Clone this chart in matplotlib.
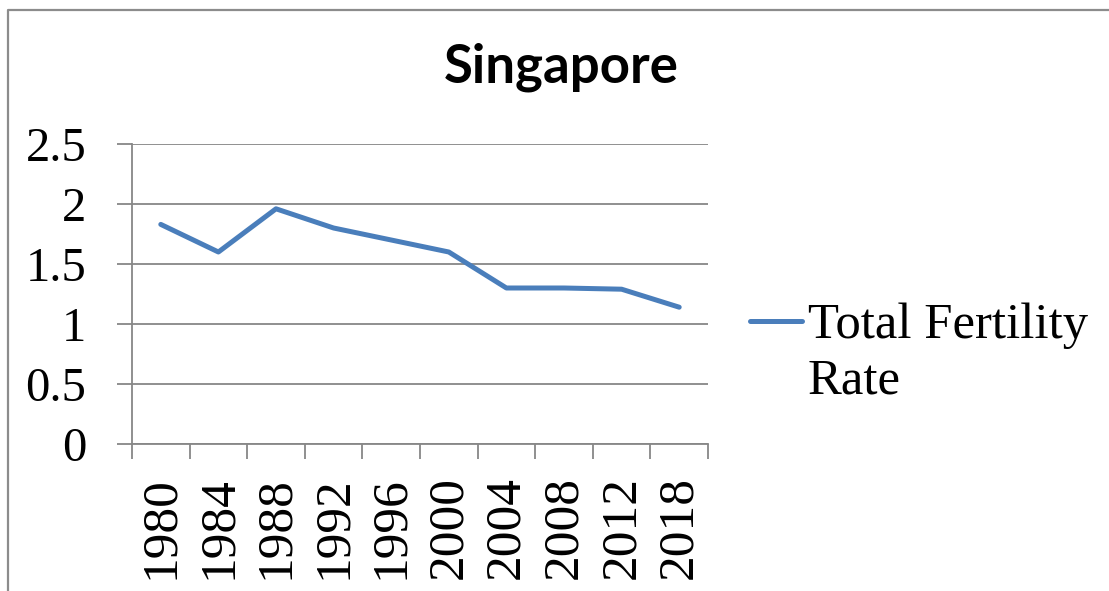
import matplotlib.pyplot as plt
from matplotlib.lines import Line2D

years = ["1980", "1984", "1988", "1992", "1996", "2000", "2004", "2008", "2012", "2018"]
tfr = [1.83, 1.60, 1.96, 1.80, 1.70, 1.60, 1.30, 1.30, 1.29, 1.14]
y_ticks = [0, 0.5, 1, 1.5, 2, 2.5]
y_labels = ["0", "0.5", "1", "1.5", "2", "2.5"]
legend_lines = ["Total Fertility", "Rate"]

W, H = 1109, 591
blue = "#4a7ebb"
grey = "#878787"
serif = "Liberation Serif"

fig = plt.figure(figsize=(W / 100, H / 100), dpi=100)

# chart frame: only top and left edges are visible in the crop
fig.add_artist(Line2D([8 / W, 8 / W, 1.0], [0, 1 - 10 / H, 1 - 10 / H], transform=fig.transFigure,
                      color="#8c8c8c", linewidth=1.6))

ax = fig.add_axes([132 / W, 1 - 444 / H, (708 - 132) / W, (444 - 144) / H])
x = list(range(len(years)))
ax.plot(x, tfr, color=blue, linewidth=3.6, solid_capstyle="round", solid_joinstyle="round")

ax.set_xlim(-0.5, len(years) - 0.5)
ax.set_ylim(0, 2.5)
ax.set_yticks(y_ticks)
ax.set_yticklabels(y_labels, fontfamily=serif, fontsize=35)
ax.set_xticks(x)
ax.set_xticklabels(years, rotation=90, fontfamily=serif, fontsize=37)
ax.set_xticks([i - 0.5 for i in range(len(years) + 1)], minor=True)
ax.tick_params(axis="x", which="major", length=0, pad=23)
ax.tick_params(axis="x", which="minor", length=11, width=1.3, color=grey)
ax.tick_params(axis="y", length=11, width=1.3, color=grey, pad=22)

ax.grid(axis="y", color=grey, linewidth=1.3)
ax.set_axisbelow(True)
for side in ["top", "right"]:
    ax.spines[side].set_visible(False)
ax.spines["left"].set_color(grey)
ax.spines["bottom"].set_color(grey)
ax.spines["left"].set_linewidth(1.3)
ax.spines["bottom"].set_linewidth(1.3)

fig.text(561 / W, 1 - 83 / H, "Singapore", ha="center", va="baseline",
         fontfamily="Lato", fontweight="bold", fontsize=38)

# legend (Excel puts the marker beside the first line of the wrapped label)
fig.add_artist(Line2D([750 / W, 802 / W], [1 - 321 / H, 1 - 321 / H], transform=fig.transFigure,
                      color=blue, linewidth=3.6, solid_capstyle="round"))
for i, line in enumerate(legend_lines):
    fig.text(808 / W, 1 - (338 + 56 * i) / H, line, ha="left", va="baseline",
             fontfamily=serif, fontsize=36.5)

fig.savefig("out.png", dpi=100)
